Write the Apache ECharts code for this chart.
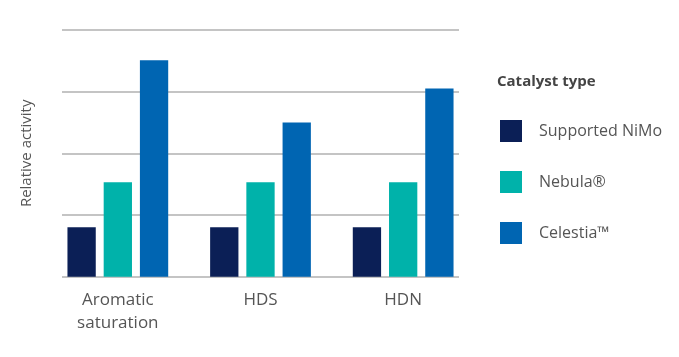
<!DOCTYPE html>
<html>
<head>
<meta charset="utf-8">
<script src="https://cdn.jsdelivr.net/npm/echarts@6/dist/echarts.min.js"></script>
<style>html,body{margin:0;padding:0;background:#fff;}#c{width:679px;height:357px;}</style>
</head>
<body>
<div id="c"></div>
<script>
var categories = ['Aromatic\nsaturation', 'HDS', 'HDN'];
var seriesNames = ['Supported NiMo', 'Nebula®', 'Celestia™'];
var nimo = [0.80, 0.80, 0.80];
var nebula = [1.53, 1.53, 1.53];
var celestia = [3.51, 2.50, 3.05];
var yTicks = [0, 1, 2, 3, 4];
var colors = ['#0b1f56', '#00b2aa', '#0065b2'];

var chart = echarts.init(document.getElementById('c'), null, {renderer: 'canvas'});
var font = 'Open Sans';
var values = [nimo, nebula, celestia];
chart.setOption({
  animation: false,
  title: {
    text: 'Catalyst type',
    left: 497, top: 74, padding: 0,
    textStyle: {fontFamily: font, fontSize: 15, fontWeight: 'bold', color: '#444'}
  },
  legend: {
    orient: 'vertical', left: 500, top: 120, padding: 0,
    itemWidth: 22, itemHeight: 22, itemGap: 29,
    icon: 'rect',
    textStyle: {fontFamily: font, fontSize: 16, color: '#555', padding: [0, 0, 0, 12]},
    data: seriesNames
  },
  grid: [
    {left: 46.5, width: 428, top: 30, height: 246.7},
    {left: 62, width: 397, top: 30, height: 246.7}
  ],
  xAxis: [
    {type: 'category', gridIndex: 0, data: categories,
     axisLine: {show: false}, axisTick: {show: false},
     axisLabel: {fontFamily: font, fontSize: 17, color: '#555', margin: 12, lineHeight: 23}},
    {type: 'category', gridIndex: 1, data: categories, show: false}
  ],
  yAxis: [
    {type: 'value', gridIndex: 0, min: yTicks[0], max: yTicks[yTicks.length-1], interval: 1, show: false},
    {type: 'value', gridIndex: 1, min: yTicks[0], max: yTicks[yTicks.length-1], interval: 1,
     name: 'Relative activity', nameLocation: 'middle', nameGap: 28,
     nameTextStyle: {fontFamily: font, fontSize: 15, color: '#555'},
     axisLine: {show: false}, axisTick: {show: false}, axisLabel: {show: false},
     splitLine: {show: true, lineStyle: {color: '#c4c4c4', width: 2}}}
  ],
  series: seriesNames.map(function (n, i) {
    return {
      name: n, type: 'bar', xAxisIndex: 0, yAxisIndex: 0,
      data: values[i], barWidth: 28.3, barGap: '28%',
      itemStyle: {color: colors[i]}
    };
  })
});
</script>
</body>
</html>
